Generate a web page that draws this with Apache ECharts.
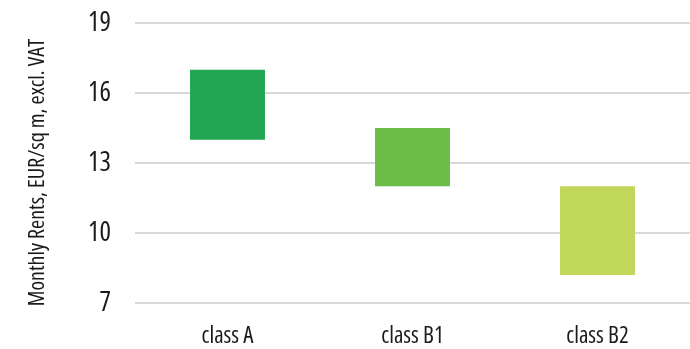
<!DOCTYPE html>
<html>
<head>
<meta charset="utf-8">
<script src="https://cdn.jsdelivr.net/npm/echarts@6/dist/echarts.min.js"></script>
<style>html,body{margin:0;padding:0;background:#fff;}#c{width:690px;height:349px;}</style>
</head>
<body>
<div id="c"></div>
<script>
var categories = ['class A', 'class B1', 'class B2'];
var lowValues = [14, 12, 8.2];
var highValues = [17, 14.5, 12];
var yTicks = [7, 10, 13, 16, 19];
var barColors = ['#21A652', '#6CBD45', '#C0D75A'];

var FONT = '"Open Sans", sans-serif';
var STRETCH = 'condensed';
var chart = echarts.init(document.getElementById('c'), null, {renderer: 'canvas'});
chart.setOption({
  animation: false,
  grid: {left: 135, right: 0, top: 23, bottom: 46, containLabel: false},
  xAxis: {
    type: 'category',
    data: categories,
    axisLine: {show: false},
    axisTick: {show: false},
    axisLabel: {color: '#1a1a1a', fontFamily: FONT, fontStyle: STRETCH, fontSize: 23, margin: 22}
  },
  yAxis: {
    type: 'value',
    min: yTicks[0],
    max: yTicks[yTicks.length - 1],
    interval: yTicks[1] - yTicks[0],
    name: 'Monthly Rents, EUR/sq m, excl. VAT',
    nameLocation: 'middle',
    nameGap: 86,
    nameTextStyle: {color: '#1a1a1a', fontFamily: FONT, fontStyle: STRETCH, fontSize: 22, padding: [0, 19, 0, 0]},
    axisLine: {show: false},
    axisTick: {show: false},
    axisLabel: {color: '#1a1a1a', fontFamily: FONT, fontStyle: STRETCH, fontSize: 27, margin: 24},
    splitLine: {lineStyle: {color: '#D9D9D9', width: 2}}
  },
  series: [
    {
      type: 'bar',
      stack: 'range',
      data: lowValues,
      itemStyle: {color: 'transparent'},
      barWidth: '40.5%',
      silent: true
    },
    {
      type: 'bar',
      stack: 'range',
      data: highValues.map(function (h, i) {
        return {value: h - lowValues[i], itemStyle: {color: barColors[i]}};
      }),
      barWidth: '40.5%'
    }
  ]
});
</script>
</body>
</html>
